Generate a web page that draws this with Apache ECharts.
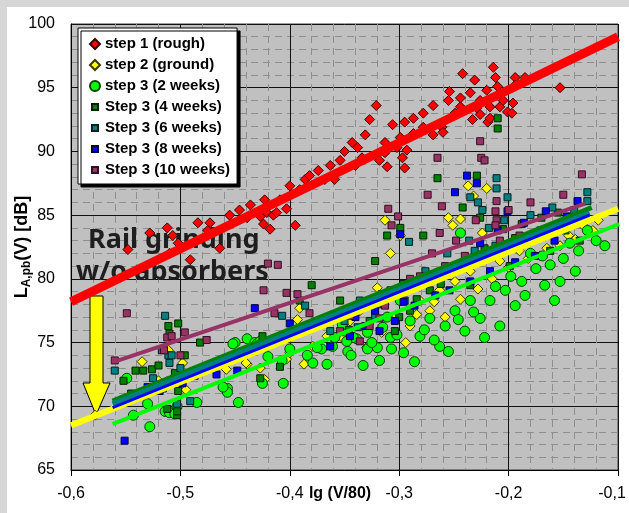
<!DOCTYPE html>
<html>
<head>
<meta charset="utf-8">
<script src="https://cdn.jsdelivr.net/npm/echarts@6/dist/echarts.min.js"></script>
<style>
  html, body { margin: 0; padding: 0; background: #ffffff; }
  #chart { width: 629px; height: 513px; }
</style>
</head>
<body>
<div id="chart"></div>
<script>
// Measured noise level L_A,pb(V) against lg(V/80), per grinding stage.
const seriesNames = [
  'step 1 (rough)', 'step 2 (ground)', 'step 3 (2 weeks)',
  'Step 3 (4 weeks)', 'Step 3 (6 weeks)', 'Step 3 (8 weeks)', 'Step 3 (10 weeks)'
];

const xTicks = [-0.6, -0.5, -0.4, -0.3, -0.2, -0.1];
const yTicks = [65, 70, 75, 80, 85, 90, 95, 100];

// [lg(V/80), dB]
const step1Rough = [
  [-0.548, 82.3], [-0.528, 83.6], [-0.512, 84.0], [-0.507, 83.4], [-0.502, 82.8],
  [-0.484, 84.4], [-0.473, 84.4], [-0.475, 83.8], [-0.491, 81.5], [-0.510, 82.0],
  [-0.464, 82.4], [-0.455, 85.0], [-0.446, 85.4], [-0.439, 84.8], [-0.427, 84.9],
  [-0.421, 85.2], [-0.415, 85.0], [-0.424, 84.3], [-0.418, 83.9], [-0.412, 85.2],
  [-0.436, 85.8], [-0.423, 86.2], [-0.409, 86.2], [-0.400, 87.3], [-0.391, 87.0],
  [-0.386, 87.8], [-0.382, 88.1], [-0.374, 88.5], [-0.368, 87.8], [-0.363, 88.9],
  [-0.395, 84.2], [-0.403, 85.5], [-0.354, 89.3], [-0.350, 90.0], [-0.343, 90.7],
  [-0.338, 90.3], [-0.331, 91.3], [-0.327, 92.5], [-0.321, 93.6], [-0.340, 88.9],
  [-0.334, 89.5], [-0.359, 87.8], [-0.318, 89.3], [-0.313, 90.7], [-0.313, 89.9],
  [-0.311, 88.8], [-0.306, 92.1], [-0.302, 90.3], [-0.299, 91.1], [-0.297, 89.5],
  [-0.295, 92.3], [-0.295, 88.7], [-0.293, 90.1], [-0.287, 92.6], [-0.287, 91.4],
  [-0.278, 93.0], [-0.278, 91.9], [-0.269, 93.6], [-0.269, 91.3], [-0.261, 91.9],
  [-0.260, 91.5], [-0.255, 94.0], [-0.254, 94.7], [-0.249, 93.0], [-0.244, 94.2],
  [-0.244, 93.5], [-0.242, 96.1], [-0.235, 94.6], [-0.233, 92.5], [-0.231, 95.6],
  [-0.229, 93.4], [-0.226, 94.0], [-0.226, 92.9], [-0.220, 94.8], [-0.219, 92.3],
  [-0.217, 93.5], [-0.217, 92.6], [-0.214, 96.6], [-0.212, 95.8], [-0.210, 95.1],
  [-0.208, 93.5], [-0.205, 94.0], [-0.201, 93.1], [-0.197, 93.0], [-0.196, 93.8],
  [-0.194, 95.8], [-0.194, 95.2], [-0.185, 95.8], [-0.153, 95.0]
];

const step2Ground = [
  [-0.535, 73.5], [-0.498, 73.4], [-0.511, 74.4], [-0.495, 71.3], [-0.439, 73.3],
  [-0.427, 73.0], [-0.458, 72.9], [-0.440, 73.4], [-0.393, 76.8], [-0.391, 77.7],
  [-0.387, 73.3], [-0.320, 79.3], [-0.351, 75.3], [-0.403, 73.7], [-0.423, 72.1],
  [-0.400, 74.2], [-0.379, 74.7], [-0.366, 75.5], [-0.237, 87.3], [-0.220, 87.1],
  [-0.232, 86.5], [-0.255, 84.8], [-0.244, 84.7], [-0.251, 84.2], [-0.313, 84.6],
  [-0.299, 83.4], [-0.308, 82.0], [-0.224, 83.6], [-0.123, 83.8], [-0.132, 84.2],
  [-0.578, 69.3], [-0.345, 76.7], [-0.336, 77.5], [-0.281, 78.3], [-0.263, 79.1],
  [-0.249, 79.8], [-0.235, 80.6], [-0.208, 81.4], [-0.190, 82.2], [-0.171, 81.8],
  [-0.153, 82.6], [-0.139, 83.1], [-0.272, 77.5], [-0.290, 76.3], [-0.330, 74.6],
  [-0.316, 75.8], [-0.305, 76.9], [-0.294, 75.0], [-0.284, 77.2], [-0.268, 78.2],
  [-0.258, 77.0], [-0.244, 78.4], [-0.228, 79.2], [-0.215, 80.0], [-0.200, 80.9],
  [-0.182, 81.6], [-0.165, 82.4], [-0.145, 83.4], [-0.118, 84.6], [-0.520, 72.0],
  [-0.545, 70.8]
];

const step3Weeks2 = [
  [-0.549, 72.2], [-0.543, 69.3], [-0.528, 68.4], [-0.514, 69.6], [-0.510, 69.5],
  [-0.503, 70.0], [-0.530, 70.2], [-0.505, 69.4], [-0.485, 70.3], [-0.450, 75.0],
  [-0.439, 75.3], [-0.432, 75.0], [-0.457, 71.4], [-0.457, 71.1], [-0.461, 71.5],
  [-0.447, 70.3], [-0.425, 71.8], [-0.406, 71.8], [-0.420, 73.9], [-0.407, 73.6],
  [-0.400, 74.5], [-0.379, 73.4], [-0.366, 73.3], [-0.371, 74.5], [-0.361, 74.7],
  [-0.347, 74.3], [-0.339, 75.3], [-0.329, 74.5], [-0.320, 74.6], [-0.307, 74.5],
  [-0.308, 75.4], [-0.315, 76.2], [-0.329, 75.8], [-0.342, 75.4], [-0.348, 75.1],
  [-0.350, 75.9], [-0.359, 75.4], [-0.375, 74.6], [-0.384, 74.0], [-0.430, 74.9],
  [-0.452, 74.9], [-0.427, 75.1], [-0.290, 76.7], [-0.281, 75.5], [-0.272, 76.9],
  [-0.263, 74.7], [-0.258, 76.3], [-0.249, 77.5], [-0.240, 75.9], [-0.235, 78.3],
  [-0.226, 76.9], [-0.217, 78.3], [-0.208, 76.3], [-0.203, 79.1], [-0.194, 77.9],
  [-0.185, 78.7], [-0.180, 82.0], [-0.169, 81.8], [-0.167, 79.5], [-0.158, 78.3],
  [-0.153, 79.8], [-0.144, 82.8], [-0.139, 80.6], [-0.128, 83.8], [-0.244, 83.6],
  [-0.299, 78.3], [-0.352, 76.4], [-0.344, 74.0], [-0.333, 73.2], [-0.325, 75.0],
  [-0.318, 73.6], [-0.311, 77.0], [-0.302, 75.6], [-0.296, 74.2], [-0.286, 73.5],
  [-0.277, 76.0], [-0.268, 75.2], [-0.255, 74.3], [-0.246, 76.8], [-0.232, 77.4],
  [-0.222, 75.4], [-0.212, 79.4], [-0.198, 80.2], [-0.188, 79.8], [-0.175, 80.8],
  [-0.162, 81.1], [-0.150, 81.6], [-0.136, 82.2], [-0.120, 83.0], [-0.112, 82.6]
];

const step3Weeks4 = [
  [-0.511, 76.3], [-0.502, 76.5], [-0.510, 75.7], [-0.541, 72.8], [-0.526, 72.9],
  [-0.534, 72.8], [-0.552, 72.0], [-0.503, 69.3], [-0.503, 69.6], [-0.512, 69.8],
  [-0.380, 79.5], [-0.425, 75.5], [-0.409, 73.1], [-0.427, 72.2], [-0.482, 75.0],
  [-0.496, 74.0], [-0.516, 71.4], [-0.502, 71.2], [-0.391, 78.3], [-0.210, 92.6],
  [-0.210, 91.8], [-0.229, 88.1], [-0.265, 87.9], [-0.242, 85.6], [-0.278, 83.4],
  [-0.311, 83.4], [-0.299, 84.0], [-0.226, 84.8], [-0.194, 83.2], [-0.354, 78.3],
  [-0.340, 77.5], [-0.327, 76.7], [-0.313, 78.3], [-0.304, 75.9], [-0.290, 77.5],
  [-0.272, 79.1], [-0.254, 80.6], [-0.235, 79.5], [-0.217, 81.8], [-0.199, 81.0],
  [-0.180, 83.0], [-0.162, 82.2], [-0.148, 83.8], [-0.135, 83.0], [-0.322, 81.4],
  [-0.346, 76.0], [-0.320, 78.0], [-0.300, 77.0], [-0.284, 78.4], [-0.262, 79.6],
  [-0.240, 81.2], [-0.222, 82.4], [-0.205, 83.9], [-0.188, 84.3], [-0.170, 84.8],
  [-0.155, 85.2], [-0.520, 73.2], [-0.505, 72.6], [-0.545, 71.0]
];

const step3Weeks6 = [
  [-0.560, 72.8], [-0.514, 77.1], [-0.517, 74.4], [-0.511, 74.0], [-0.510, 73.4],
  [-0.503, 70.2], [-0.407, 77.1], [-0.386, 77.9], [-0.211, 87.9], [-0.211, 87.1],
  [-0.201, 86.4], [-0.235, 86.4], [-0.228, 86.0], [-0.224, 85.4], [-0.128, 86.8],
  [-0.128, 86.1], [-0.291, 82.9], [-0.508, 74.0], [-0.363, 75.9], [-0.350, 76.7],
  [-0.336, 78.3], [-0.322, 77.1], [-0.308, 79.1], [-0.295, 78.3], [-0.281, 79.8],
  [-0.263, 80.2], [-0.249, 81.0], [-0.231, 82.2], [-0.212, 82.6], [-0.190, 83.0],
  [-0.171, 83.8], [-0.153, 84.2], [-0.491, 70.4], [-0.537, 70.8], [-0.338, 76.2],
  [-0.316, 78.8], [-0.296, 79.6], [-0.276, 80.6], [-0.256, 82.0], [-0.236, 83.0],
  [-0.218, 84.0], [-0.204, 84.6], [-0.180, 85.0], [-0.160, 85.6], [-0.140, 85.4],
  [-0.525, 72.2], [-0.500, 73.0]
];

const step3Weeks8 = [
  [-0.432, 77.7], [-0.400, 76.5], [-0.467, 72.5], [-0.448, 72.8], [-0.238, 88.1],
  [-0.229, 87.5], [-0.249, 86.8], [-0.201, 85.3], [-0.137, 86.1], [-0.147, 84.9],
  [-0.299, 83.5], [-0.510, 72.0], [-0.555, 70.4], [-0.551, 67.3], [-0.363, 74.7],
  [-0.345, 75.5], [-0.331, 76.3], [-0.318, 75.9], [-0.304, 76.7], [-0.286, 77.9],
  [-0.267, 78.7], [-0.254, 79.1], [-0.235, 79.8], [-0.217, 80.6], [-0.194, 81.3],
  [-0.176, 81.8], [-0.158, 83.0], [-0.519, 71.2], [-0.487, 72.4], [-0.340, 77.0],
  [-0.322, 77.5], [-0.296, 78.2], [-0.276, 79.6], [-0.248, 80.8], [-0.226, 82.8],
  [-0.210, 83.8], [-0.186, 84.4], [-0.166, 85.3], [-0.530, 71.5], [-0.498, 71.8]
];

const step3Weeks10 = [
  [-0.549, 77.3], [-0.411, 81.1], [-0.420, 81.2], [-0.424, 79.1], [-0.403, 78.9],
  [-0.496, 75.8], [-0.512, 75.4], [-0.414, 77.3], [-0.393, 78.8], [-0.382, 77.3],
  [-0.476, 75.2], [-0.508, 75.5], [-0.226, 90.8], [-0.265, 89.5], [-0.225, 89.5],
  [-0.222, 89.3], [-0.274, 86.6], [-0.261, 85.7], [-0.211, 86.1], [-0.212, 85.3],
  [-0.211, 84.6], [-0.133, 88.2], [-0.310, 85.5], [-0.307, 84.2], [-0.301, 84.9],
  [-0.263, 83.6], [-0.212, 84.2], [-0.560, 73.6], [-0.345, 77.1], [-0.327, 76.3],
  [-0.313, 77.9], [-0.299, 79.1], [-0.281, 80.2], [-0.258, 81.0], [-0.240, 81.8],
  [-0.208, 83.0], [-0.190, 83.4], [-0.169, 83.8], [-0.354, 75.9], [-0.336, 75.1],
  [-0.330, 78.2], [-0.318, 76.9], [-0.290, 80.0], [-0.270, 82.0], [-0.248, 83.0],
  [-0.230, 84.6], [-0.200, 85.4], [-0.180, 86.0], [-0.150, 86.6], [-0.515, 74.4],
  [-0.500, 74.0]
];

// Regression lines: start and end point of each fit
const trendStep1 = [[-0.600, 78.2], [-0.100, 99.0]];
const trendStep2 = [[-0.600, 68.5], [-0.100, 85.5]];
const trendWeeks2 = [[-0.562, 68.6], [-0.099, 84.3]];
const trendWeeks4 = [[-0.562, 70.4], [-0.124, 85.6]];
const trendWeeks6 = [[-0.562, 70.2], [-0.126, 85.2]];
const trendWeeks8 = [[-0.562, 69.9], [-0.126, 85.0]];
const trendWeeks10 = [[-0.560, 73.5], [-0.130, 85.9]];

const colors = {
  rough: '#ff0000', ground: '#ffff00', w2: '#00ff00',
  w4: '#008000', w6: '#008080', w8: '#0000ff', w10: '#993366'
};

const smallSquare = 'path://M0,0M10,10M2,2h6v6h-6z';

function scatter(name, data, symbol, size, color, border) {
  return {
    name: name, type: 'scatter', data: data,
    symbol: symbol, symbolSize: size, z: 2,
    itemStyle: { color: color, borderColor: border, borderWidth: 1, opacity: 1 },
    emphasis: { disabled: true }, animation: false
  };
}

function trend(data, color, width) {
  return {
    type: 'line', data: data, symbol: 'none', silent: true, z: 3,
    lineStyle: { color: color, width: width, cap: 'butt' },
    animation: false
  };
}

const chart = echarts.init(document.getElementById('chart'), null, { renderer: 'canvas' });

chart.setOption({
  backgroundColor: '#ffffff',
  animation: false,
  grid: {
    left: 71, right: 11, top: 24, bottom: 43,
    outerBoundsMode: 'none', containLabel: false,
    show: true, backgroundColor: '#c0c0c0', borderColor: '#404040', borderWidth: 1
  },
  xAxis: {
    type: 'value', min: xTicks[0], max: xTicks[xTicks.length - 1], interval: 0.1,
    name: 'lg (V/80)', nameLocation: 'middle', nameGap: 16, nameMoveOverlap: false,
    nameTextStyle: { fontFamily: 'Liberation Sans', fontWeight: 'bold', fontSize: 16, color: '#000', padding: [0, 9, 0, 0] },
    axisLine: { show: true, onZero: false, lineStyle: { color: '#000', width: 1 } },
    axisTick: { show: true, length: 6, lineStyle: { color: '#000' } },
    minorTick: { show: false, splitNumber: 5 },
    axisLabel: {
      fontFamily: 'Liberation Sans', fontSize: 16, color: '#000', margin: 16,
      formatter: v => {
        const s = v.toFixed(1).replace('.', ',');
        return v >= xTicks[xTicks.length - 1] - 1e-9 ? '{r|' + s + '}' : s;
      },
      rich: { r: { fontFamily: 'Liberation Sans', fontSize: 16, color: '#000', padding: [0, 12, 0, 0] } }
    },
    splitLine: { show: true, lineStyle: { color: '#111', width: 1 } },
    minorSplitLine: { show: true, lineStyle: { color: '#8e8e8e', width: 1, type: [7, 5] } }
  },
  yAxis: {
    type: 'value', min: yTicks[0], max: yTicks[yTicks.length - 1], interval: 5,
    name: '{a|L}{s|A,pb}{a|(V) [dB]}', nameLocation: 'middle', nameGap: 38, nameRotate: 90,
    nameMoveOverlap: false,
    nameTextStyle: {
      rich: {
        a: { fontFamily: 'Liberation Sans', fontWeight: 'bold', fontSize: 18, color: '#000', lineHeight: 22 },
        s: { fontFamily: 'Liberation Sans', fontWeight: 'bold', fontSize: 12, color: '#000', lineHeight: 13, verticalAlign: 'bottom' }
      }
    },
    axisLine: { show: true, onZero: false, lineStyle: { color: '#000', width: 1 } },
    axisTick: { show: false },
    minorTick: { show: false, splitNumber: 5 },
    axisLabel: { fontFamily: 'Liberation Sans', fontSize: 16, color: '#000', margin: 16 },
    splitLine: { show: true, lineStyle: { color: '#111', width: 1 } },
    minorSplitLine: { show: true, lineStyle: { color: '#8e8e8e', width: 1, type: [7, 5] } }
  },
  legend: {
    orient: 'vertical', left: 78, top: 28,
    backgroundColor: '#ffffff', borderColor: '#000', borderWidth: 1,
    shadowColor: 'rgba(0,0,0,1)', shadowOffsetX: 3, shadowOffsetY: 3, shadowBlur: 0,
    padding: [8, 7, 6, 11], itemGap: 5, itemWidth: 10, itemHeight: 10,
    textStyle: { fontFamily: 'Liberation Sans', fontWeight: 'bold', fontSize: 15, color: '#000', lineHeight: 16 },
    selectedMode: false,
    data: [
      { name: seriesNames[0], icon: 'diamond' },
      { name: seriesNames[1], icon: 'diamond' },
      { name: seriesNames[2], icon: 'circle' },
      { name: seriesNames[3], icon: smallSquare },
      { name: seriesNames[4], icon: smallSquare },
      { name: seriesNames[5], icon: smallSquare },
      { name: seriesNames[6], icon: smallSquare }
    ]
  },
  graphic: [
    // outer frame
    { type: 'rect', shape: { x: 0, y: 0, width: 629, height: 7 }, style: { fill: '#d6d6d6' }, z: 0, silent: true },
    { type: 'rect', shape: { x: 0, y: 0, width: 7, height: 513 }, style: { fill: '#d6d6d6' }, z: 0, silent: true },
    // annotation
    { type: 'text', x: 88, y: 240, z: 1, silent: true,
      style: { text: 'Rail grinding', fontFamily: 'Noto Sans', fontWeight: 'bold', fontSize: 27, fill: '#1e1e1e', textVerticalAlign: 'middle' } },
    { type: 'text', x: 76, y: 272, z: 1, silent: true,
      style: { text: 'w/o absorbers', fontFamily: 'Noto Sans', fontWeight: 'bold', fontSize: 27, fill: '#1e1e1e', textVerticalAlign: 'middle' } },
    // downward arrow
    { type: 'polygon', z: 1, silent: true,
      shape: { points: [[90, 296], [103, 296], [103, 383], [110, 383], [96, 415], [83, 383], [90, 383]] },
      style: { fill: '#ffff00', stroke: '#000', lineWidth: 1 } }
  ],
  series: [
    scatter(seriesNames[0], step1Rough, 'diamond', 10, colors.rough, '#3a0000'),
    scatter(seriesNames[1], step2Ground, 'diamond', 10, colors.ground, '#3a3a00'),
    scatter(seriesNames[2], step3Weeks2, 'circle', 10, colors.w2, '#004000'),
    scatter(seriesNames[3], step3Weeks4, 'rect', 7, colors.w4, '#002000'),
    scatter(seriesNames[4], step3Weeks6, 'rect', 7, colors.w6, '#002020'),
    scatter(seriesNames[5], step3Weeks8, 'rect', 7, colors.w8, '#000040'),
    scatter(seriesNames[6], step3Weeks10, 'rect', 7, colors.w10, '#301020'),
    trend(trendStep1, colors.rough, 9),
    trend(trendStep2, colors.ground, 6),
    trend(trendWeeks2, colors.w2, 4),
    trend(trendWeeks4, colors.w4, 5),
    trend(trendWeeks6, colors.w6, 5),
    trend(trendWeeks8, colors.w8, 3),
    trend(trendWeeks10, colors.w10, 4)
  ]
});
</script>
</body>
</html>
